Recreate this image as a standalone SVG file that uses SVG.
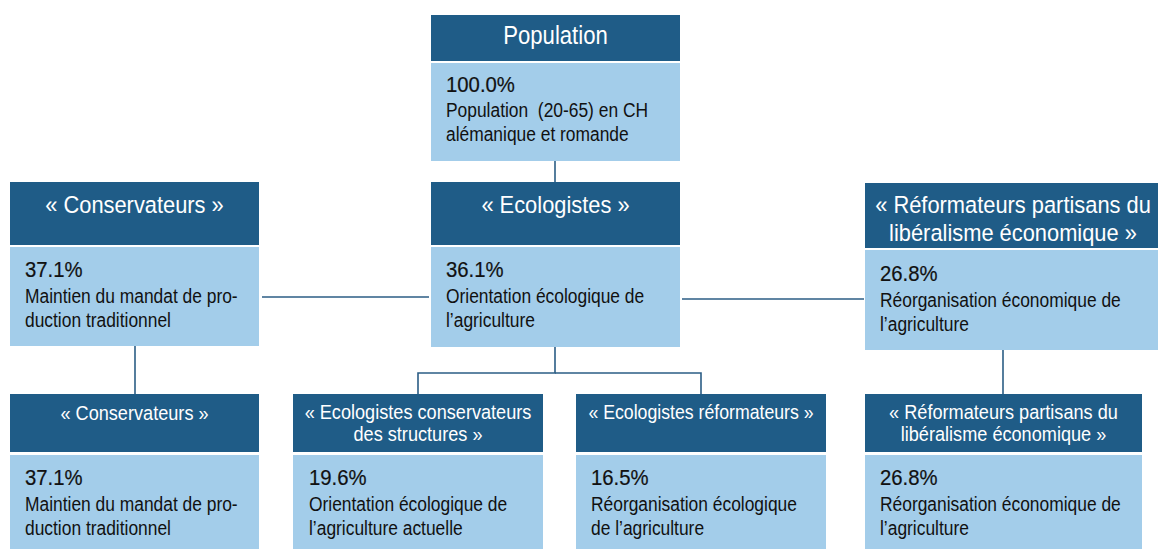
<svg xmlns="http://www.w3.org/2000/svg" width="1160" height="549" viewBox="0 0 1160 549">
<style>
.hd{fill:#1f5c87}
.bd{fill:#a3cdea}
text{font-family:"Liberation Sans",Arial,sans-serif;transform-box:fill-box}
.ht{fill:#ffffff;text-anchor:middle;transform-origin:50% 50%;transform:scaleX(0.885)}
.pc{fill:#111111;font-size:21.4px;stroke:#111111;stroke-width:0.2;transform-origin:0 50%;transform:scaleX(0.95)}
.tx{fill:#111111;font-size:20px;transform-origin:0 50%;transform:scaleX(0.87)}
.cn{stroke:#2b5d85;stroke-width:1.6;fill:none}
</style>
<rect width="1160" height="549" fill="#ffffff"/>
<g id="connectors">
<line class="cn" x1="555" y1="161" x2="555" y2="183"/>
<line class="cn" x1="262" y1="297" x2="429" y2="297"/>
<line class="cn" x1="682" y1="299" x2="864" y2="299"/>
<line class="cn" x1="135" y1="346" x2="135" y2="394"/>
<polyline class="cn" points="555,347 555,373 418,373 418,394"/>
<polyline class="cn" points="555,373 701,373 701,394"/>
<line class="cn" x1="1003" y1="350" x2="1003" y2="394"/>
</g>
<g id="population">
<rect class="hd" x="431" y="15" width="249" height="46"/>
<rect class="bd" x="431" y="63" width="249" height="98"/>
<text class="ht" x="555.5" y="44" font-size="25">Population</text>
<text class="pc" x="446" y="92">100.0%</text>
<text class="tx" x="446" y="117">Population&#160; (20-65) en CH</text>
<text class="tx" x="446" y="141">alémanique et romande</text>
</g>
<g id="conservateurs">
<rect class="hd" x="10" y="182" width="249" height="63"/>
<rect class="bd" x="10" y="247" width="249" height="99"/>
<text class="ht" x="134.5" y="213" font-size="24.7">« Conservateurs »</text>
<text class="pc" x="25" y="277.5">37.1%</text>
<text class="tx" x="25" y="303">Maintien du mandat de pro-</text>
<text class="tx" x="25" y="327">duction traditionnel</text>
</g>
<g id="ecologistes">
<rect class="hd" x="431" y="182" width="249" height="63"/>
<rect class="bd" x="431" y="247" width="249" height="100"/>
<text class="ht" x="555.5" y="213" font-size="24.7">« Ecologistes »</text>
<text class="pc" x="446" y="277.5">36.1%</text>
<text class="tx" x="446" y="303">Orientation écologique de</text>
<text class="tx" x="446" y="327">l’agriculture</text>
</g>
<g id="reformateurs">
<rect class="hd" x="865" y="183" width="293" height="65"/>
<rect class="bd" x="865" y="250" width="293" height="100"/>
<text class="ht" x="1013" y="213" font-size="24.7">« Réformateurs partisans du</text>
<text class="ht" x="1013" y="241" font-size="24.7">libéralisme économique »</text>
<text class="pc" x="880" y="281">26.8%</text>
<text class="tx" x="880" y="307">Réorganisation économique de</text>
<text class="tx" x="880" y="331">l’agriculture</text>
</g>
<g id="conservateurs-2">
<rect class="hd" x="10" y="394" width="249" height="58"/>
<rect class="bd" x="10" y="455" width="249" height="94"/>
<text class="ht" x="134.5" y="420" font-size="20.5">« Conservateurs »</text>
<text class="pc" x="25" y="485">37.1%</text>
<text class="tx" x="25" y="511">Maintien du mandat de pro-</text>
<text class="tx" x="25" y="535">duction traditionnel</text>
</g>
<g id="ecologistes-conservateurs">
<rect class="hd" x="293" y="394" width="250" height="58"/>
<rect class="bd" x="293" y="455" width="250" height="94"/>
<text class="ht" x="418" y="419" font-size="20.5">« Ecologistes conservateurs</text>
<text class="ht" x="418" y="441" font-size="20.5">des structures »</text>
<text class="pc" x="309" y="485">19.6%</text>
<text class="tx" x="309" y="511">Orientation écologique de</text>
<text class="tx" x="309" y="535">l’agriculture actuelle</text>
</g>
<g id="ecologistes-reformateurs">
<rect class="hd" x="576" y="394" width="250" height="58"/>
<rect class="bd" x="576" y="455" width="250" height="94"/>
<text class="ht" x="701" y="419" font-size="20">« Ecologistes réformateurs »</text>
<text class="pc" x="591" y="485">16.5%</text>
<text class="tx" x="591" y="511">Réorganisation écologique</text>
<text class="tx" x="591" y="535">de l’agriculture</text>
</g>
<g id="reformateurs-2">
<rect class="hd" x="865" y="394" width="277" height="58"/>
<rect class="bd" x="865" y="455" width="277" height="94"/>
<text class="ht" x="1003.5" y="419" font-size="20.5">« Réformateurs partisans du</text>
<text class="ht" x="1003.5" y="441" font-size="20.5">libéralisme économique »</text>
<text class="pc" x="880" y="485">26.8%</text>
<text class="tx" x="880" y="511">Réorganisation économique de</text>
<text class="tx" x="880" y="535">l’agriculture</text>
</g>
</svg>
